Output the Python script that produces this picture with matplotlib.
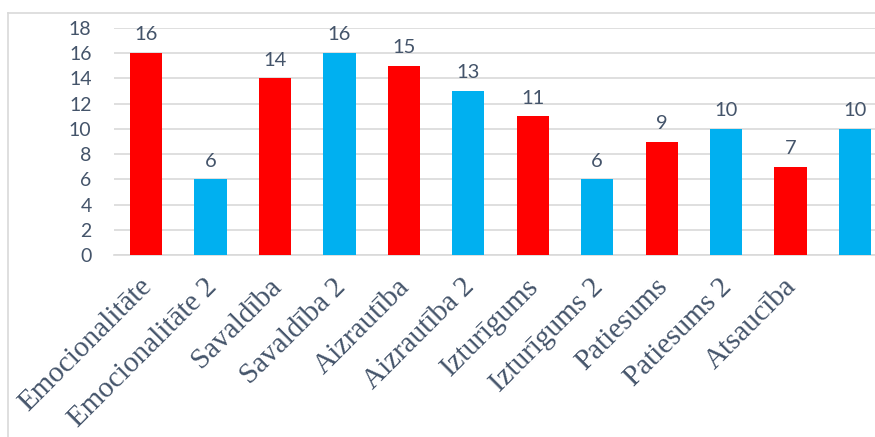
import matplotlib
matplotlib.use("Agg")
import matplotlib.pyplot as plt
from matplotlib.lines import Line2D
from matplotlib.transforms import ScaledTranslation

categories = ["Emocionalitāte", "Emocionalitāte 2", "Savaldība", "Savaldība 2",
              "Aizrautība", "Aizrautība 2", "Izturīgums", "Izturīgums 2",
              "Patiesums", "Patiesums 2", "Atsaucība", ""]
values = [16, 6, 14, 16, 15, 13, 11, 6, 9, 10, 7, 10]
bar_colors = ["#FF0000", "#00B0F0"] * 6
yticks = [0, 2, 4, 6, 8, 10, 12, 14, 16, 18]

text_color = "#44546A"
grid_color = "#D9D9D9"

fig = plt.figure(figsize=(8.75, 4.37), dpi=100)
W, H = 875, 437
x0, x1 = 113.8, 887.3
y0, y1 = 255, 28
ax = fig.add_axes([x0 / W, (H - y0) / H, (x1 - x0) / W, (y0 - y1) / H])

xs = list(range(len(categories)))
bars = ax.bar(xs, values, width=0.5, color=bar_colors, zorder=3)
for x, v in zip(xs, values):
    ax.annotate(str(v), (x, v), xytext=(0, 7), textcoords="offset points",
                ha="center", va="bottom", fontsize=14.5, color=text_color,
                family="Lato")

ax.set_xlim(-0.5, len(categories) - 0.5)
ax.set_ylim(0, 18)
ax.set_yticks(yticks)
ax.set_yticklabels([str(t) for t in yticks], fontsize=14, color=text_color, family="Lato")
ax.yaxis.grid(True, color=grid_color, linewidth=1.2, zorder=0)
ax.tick_params(axis="y", length=0, pad=16)
ax.tick_params(axis="x", length=0, pad=12)
ax.set_xticks(xs)
ax.set_xticklabels(categories, rotation=45, ha="right", va="top",
                   rotation_mode="anchor", fontsize=21, color=text_color,
                   family="Liberation Serif")
shift = ScaledTranslation(-0.07, -0.02, fig.dpi_scale_trans)
for lab in ax.get_xticklabels():
    lab.set_transform(lab.get_transform() + shift)
for s in ["top", "right", "left"]:
    ax.spines[s].set_visible(False)
ax.spines["bottom"].set_color(grid_color)
ax.spines["bottom"].set_linewidth(1.2)

# chart border (partially visible)
fig.add_artist(Line2D([8 / W, 8 / W], [0, 1 - 13 / H], transform=fig.transFigure,
                      color=grid_color, linewidth=1.2))
fig.add_artist(Line2D([8 / W, 1], [1 - 13 / H, 1 - 13 / H], transform=fig.transFigure,
                      color=grid_color, linewidth=1.2))

fig.savefig("out.png", dpi=100)
